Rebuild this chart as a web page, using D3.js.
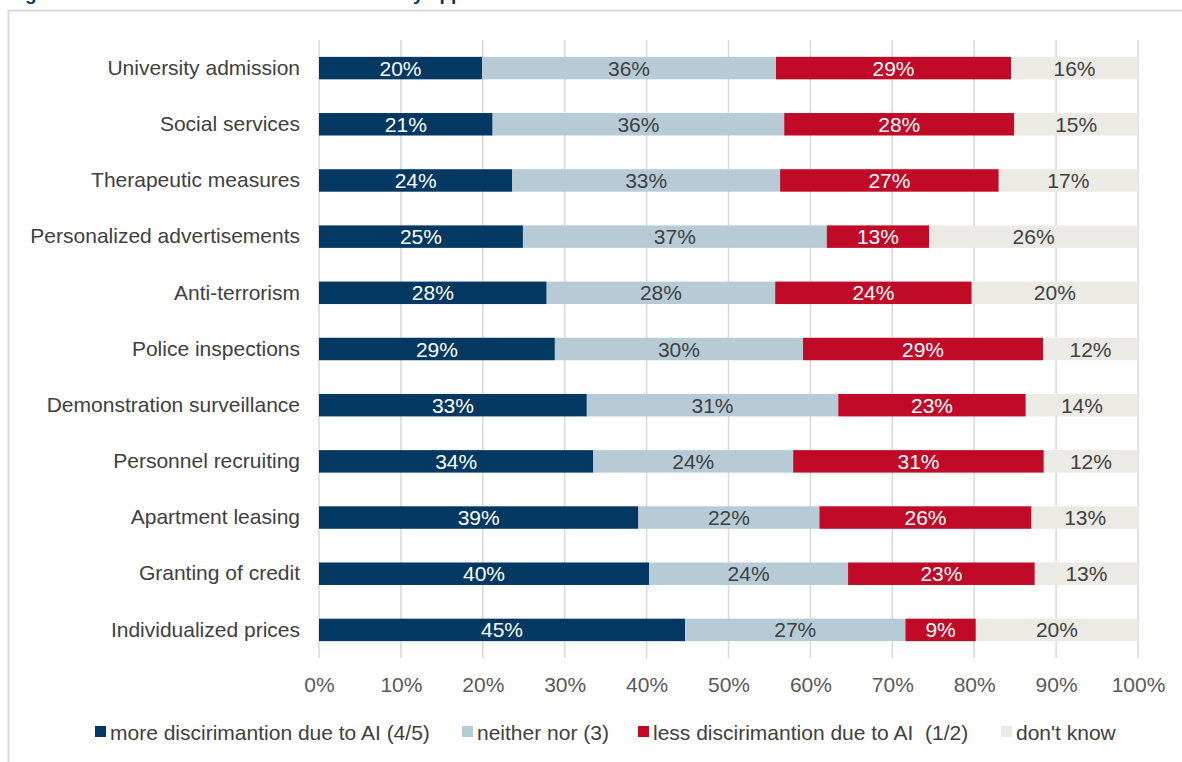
<!DOCTYPE html>
<html lang="en">
<head>
<meta charset="UTF-8">
<title>AI discrimination by application area</title>
<script src="https://d3js.org/d3.v7.min.js"></script>
<style>
    body { margin: 0; background: #fff; font-family: "Liberation Sans", Arial, sans-serif; }
    svg { display: block; }
</style>
</head>
<body>
<div id="chart"></div>
<script>
const categories = [
    "University admission", "Social services", "Therapeutic measures",
    "Personalized advertisements", "Anti-terrorism", "Police inspections",
    "Demonstration surveillance", "Personnel recruiting", "Apartment leasing",
    "Granting of credit", "Individualized prices"
];
const seriesNames = [
    "more discirimantion due to AI (4/5)", "neither nor (3)",
    "less discirimantion due to AI  (1/2)", "don't know"
];
// shares in percent
const moreDiscrimination = [19.9, 21.2, 23.6, 24.9, 27.8, 28.8, 32.7, 33.5, 39.0, 40.3, 44.7];
const neitherNor        = [35.9, 35.6, 32.7, 37.1, 27.9, 30.3, 30.7, 24.4, 22.1, 24.3, 26.9];
const lessDiscrimination = [28.7, 28.1, 26.7, 12.5, 24.0, 29.3, 22.9, 30.6, 25.9, 22.8, 8.6];
const dontKnow          = [15.5, 15.1, 17.0, 25.5, 20.3, 11.6, 13.7, 11.5, 13.1, 12.6, 19.8];
const xTicks = [0, 10, 20, 30, 40, 50, 60, 70, 80, 90, 100];

const colors = ["#023862", "#b7cbd6", "#c00a27", "#ebeae4"];
const labelColors = ["#ffffff", "#404040", "#ffffff", "#404040"];
const fontSize = "21px";

const width = 1182, height = 762;
const svg = d3.select("#chart").append("svg")
    .attr("width", width).attr("height", height);

// frame + cut-off title above it
svg.append("text")
    .attr("x", 8).attr("y", 0)
    .attr("fill", "#023862")
    .style("font-weight", "bold").style("font-size", "19px")
    .text("Figure 11: Assessment of AI discrimination by application area");
svg.append("rect")
    .attr("x", 8.5).attr("y", 10.5)
    .attr("width", 1200).attr("height", 800)
    .attr("fill", "#fff").attr("stroke", "#d9d9d9").attr("stroke-width", 2);

const x = d3.scaleLinear().domain([0, 100]).range([319, 1138]);
const y = d3.scaleBand().domain(categories).range([40, 658]).paddingInner(0.6).paddingOuter(0.3);

// gridlines
svg.append("g").selectAll("line").data(xTicks).join("line")
    .attr("x1", d => x(d)).attr("x2", d => x(d))
    .attr("y1", 40).attr("y2", 658)
    .attr("stroke", "#d9d9d9").attr("stroke-width", 1.5);

const rows = categories.map((c, i) => ({
    category: c,
    values: [moreDiscrimination[i], neitherNor[i], lessDiscrimination[i], dontKnow[i]]
}));
const stackData = rows.map(r => {
    const o = { category: r.category };
    r.values.forEach((v, k) => o[k] = v);
    return o;
});
const stack = d3.stack().keys([0, 1, 2, 3])(stackData);

const layer = svg.append("g").selectAll("g").data(stack).join("g")
    .attr("fill", (d, k) => colors[k]);
layer.selectAll("rect").data(d => d).join("rect")
    .attr("x", d => x(d[0]))
    .attr("width", d => x(d[1]) - x(d[0]))
    .attr("y", d => y(d.data.category))
    .attr("height", y.bandwidth());

const labels = svg.append("g").selectAll("g").data(stack).join("g")
    .attr("fill", (d, k) => labelColors[k]);
labels.selectAll("text").data(d => d).join("text")
    .attr("x", d => (x(d[0]) + x(d[1])) / 2)
    .attr("y", d => y(d.data.category) + y.bandwidth() / 2)
    .attr("dy", "0.36em")
    .attr("text-anchor", "middle")
    .style("font-size", fontSize)
    .text(d => Math.round(d[1] - d[0]) + "%");

// category axis
const yAxis = svg.append("g")
    .attr("transform", `translate(${x(0)},0)`)
    .call(d3.axisLeft(y).tickSize(0).tickPadding(19));
yAxis.select(".domain").remove();
yAxis.selectAll("text")
    .attr("fill", "#404040")
    .style("font-size", fontSize)
    .style("font-family", "'Liberation Sans', Arial, sans-serif");

// percent axis
const xAxis = svg.append("g")
    .attr("transform", "translate(0,658)")
    .call(d3.axisBottom(x).tickValues(xTicks).tickSize(0).tickPadding(19).tickFormat(d => d + "%"));
xAxis.select(".domain").remove();
xAxis.selectAll("text")
    .attr("fill", "#595959")
    .style("font-size", fontSize)
    .style("font-family", "'Liberation Sans', Arial, sans-serif");

// legend
const legendX = [95, 462, 638, 1001];
const legend = svg.append("g").selectAll("g").data(seriesNames).join("g")
    .attr("transform", (d, k) => `translate(${legendX[k]},732)`);
legend.append("rect")
    .attr("x", 0).attr("y", -6).attr("width", 11).attr("height", 11)
    .attr("fill", (d, k) => colors[k]);
legend.append("text")
    .attr("x", 15).attr("dy", "0.36em")
    .attr("fill", "#404040")
    .style("font-size", fontSize)
    .style("white-space", "pre")
    .text(d => d);
</script>
</body>
</html>
